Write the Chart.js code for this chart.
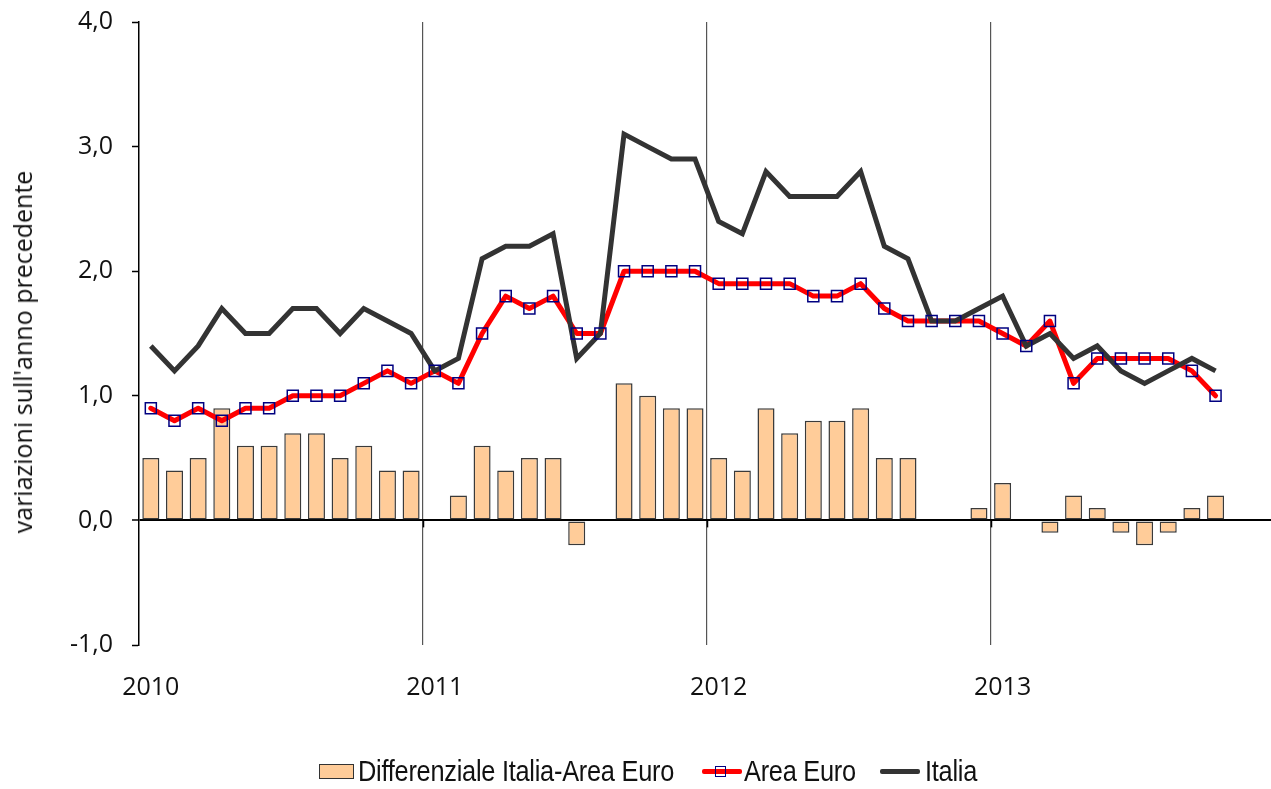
<!DOCTYPE html>
<html>
<head>
<meta charset="utf-8">
<script src="https://cdn.jsdelivr.net/npm/chart.js@4/dist/chart.umd.min.js"></script>
<style>
html,body{margin:0;padding:0;background:#fff;overflow:hidden;width:1271px;height:789px;}
#wrap{position:relative;width:1284px;height:789px;}
#c{position:absolute;left:0;top:0;}
.lgt{position:absolute;top:756px;height:30px;line-height:30px;font-family:"Liberation Sans",Arial,sans-serif;font-size:30px;color:#111;white-space:nowrap;letter-spacing:-0.3px;transform:scaleX(0.845);transform-origin:0 50%;}
.sym{position:absolute;box-sizing:border-box;}
#ytitle{position:absolute;left:22px;top:352px;width:0;height:0;}
#ytitle span{position:absolute;left:0;top:0;transform:translate(-50%,-50%) rotate(-90deg);font-family:"Open Sans",sans-serif;font-size:25px;line-height:30px;color:#111;white-space:nowrap;}
</style>
</head>
<body>
<div id="wrap">
<canvas id="c" width="1284" height="789"></canvas>
<div id="ytitle"><span>variazioni sull'anno precedente</span></div>
<div class="sym" style="left:319px;top:764px;width:35px;height:15px;background:#FFCC99;border:1.5px solid #333;"></div>
<div class="lgt" style="left:358px;">Differenziale Italia-Area Euro</div>
<div class="sym" style="left:702px;top:769px;width:40px;height:5px;background:#FF0000;border-radius:2px;"></div>
<div class="sym" style="left:715px;top:766px;width:11px;height:11px;border:1.5px solid #000080;"></div>
<div class="lgt" style="left:744px;">Area Euro</div>
<div class="sym" style="left:880px;top:769px;width:40px;height:5px;background:#333333;border-radius:2px;"></div>
<div class="lgt" style="left:925px;">Italia</div>
</div>
<script>
const categories = [
  'gen 2010','feb 2010','mar 2010','apr 2010','mag 2010','giu 2010','lug 2010','ago 2010','set 2010','ott 2010','nov 2010','dic 2010',
  'gen 2011','feb 2011','mar 2011','apr 2011','mag 2011','giu 2011','lug 2011','ago 2011','set 2011','ott 2011','nov 2011','dic 2011',
  'gen 2012','feb 2012','mar 2012','apr 2012','mag 2012','giu 2012','lug 2012','ago 2012','set 2012','ott 2012','nov 2012','dic 2012',
  'gen 2013','feb 2013','mar 2013','apr 2013','mag 2013','giu 2013','lug 2013','ago 2013','set 2013','ott 2013','nov 2013','dic 2013'
];
const yearLabels = ['2010','2011','2012','2013'];
const yTicks = [-1, 0, 1, 2, 3, 4];

const differenziale = [
  0.5,0.4,0.5,0.9,0.6,0.6,0.7,0.7,0.5,0.6,0.4,0.4,
  0.0,0.2,0.6,0.4,0.5,0.5,-0.2,0.0,1.1,1.0,0.9,0.9,
  0.5,0.4,0.9,0.7,0.8,0.8,0.9,0.5,0.5,0.0,0.0,0.1,
  0.3,0.0,-0.1,0.2,0.1,-0.1,-0.2,-0.1,0.1,0.2
];
const areaEuro = [
  0.9,0.8,0.9,0.8,0.9,0.9,1.0,1.0,1.0,1.1,1.2,1.1,
  1.2,1.1,1.5,1.8,1.7,1.8,1.5,1.5,2.0,2.0,2.0,2.0,
  1.9,1.9,1.9,1.9,1.8,1.8,1.9,1.7,1.6,1.6,1.6,1.6,
  1.5,1.4,1.6,1.1,1.3,1.3,1.3,1.3,1.2,1.0
];
const italia = [
  1.4,1.2,1.4,1.7,1.5,1.5,1.7,1.7,1.5,1.7,1.6,1.5,
  1.2,1.3,2.1,2.2,2.2,2.3,1.3,1.5,3.1,3.0,2.9,2.9,
  2.4,2.3,2.8,2.6,2.6,2.6,2.8,2.2,2.1,1.6,1.6,1.7,
  1.8,1.4,1.5,1.3,1.4,1.2,1.1,1.2,1.3,1.2
];

const tickFont = {family: '"Open Sans", sans-serif', size: 25};

const boundaryTicks = {
  id: 'boundaryTicks',
  afterDatasetsDraw(chart) {
    const {ctx, scales: {x, y}} = chart;
    const y0 = y.getPixelForValue(0);
    const w = x.width / categories.length;
    ctx.save();
    ctx.strokeStyle = '#000';
    ctx.lineWidth = 1.5;
    for (let i = 12; i < categories.length; i += 12) {
      const px = Math.round(x.getPixelForValue(i) - w / 2) + 0.5;
      ctx.beginPath();
      ctx.moveTo(px, y0);
      ctx.lineTo(px, y0 + 7);
      ctx.stroke();
    }
    ctx.restore();
  }
};

new Chart(document.getElementById('c'), {
  type: 'bar',
  data: {
    labels: categories,
    datasets: [
      {
        type: 'line', label: 'Area Euro markers', data: areaEuro, showLine: false,
        pointStyle: 'rect', pointRadius: 7.8, pointBorderColor: '#000080', pointBorderWidth: 1.5,
        pointBackgroundColor: 'rgba(0,0,0,0)', order: 0
      },
      {
        type: 'line', label: 'Italia', data: italia, borderColor: '#333333', borderWidth: 5,
        pointRadius: 0, tension: 0, borderJoinStyle: 'miter', order: 1
      },
      {
        type: 'line', label: 'Area Euro', data: areaEuro, borderColor: '#FF0000', borderWidth: 5,
        pointRadius: 0, tension: 0, borderJoinStyle: 'round', borderCapStyle: 'round', order: 2
      },
      {
        type: 'bar', label: 'Differenziale Italia-Area Euro', data: differenziale,
        backgroundColor: '#FFCC99', borderColor: '#3a3a3a', borderWidth: 1.5, borderSkipped: false,
        barPercentage: 0.72, categoryPercentage: 1, order: 3
      }
    ]
  },
  options: {
    responsive: false,
    animation: false,
    devicePixelRatio: 1,
    layout: {padding: {top: 22, right: 0, bottom: 0, left: 0}},
    plugins: {legend: {display: false}, tooltip: {enabled: false}},
    scales: {
      x: {
        type: 'category',
        offset: true,
        afterFit: s => { s.height = 144; s.paddingLeft = 0; s.paddingRight = 0; },
        grid: {
          offset: true,
          drawTicks: false,
          lineWidth: 1.2,
          color: c => (c.index > 0 && c.index < categories.length && c.index % 12 === 0) ? '#555555' : 'rgba(0,0,0,0)'
        },
        border: {display: false},
        ticks: {
          autoSkip: false, maxRotation: 0, minRotation: 0, padding: 28,
          font: tickFont, color: '#111',
          callback: (v, i) => (i % 12 === 0 ? yearLabels[i / 12] : '')
        }
      },
      y: {
        min: -1, max: 4,
        afterFit: s => { s.width = 139; s.paddingTop = 0; s.paddingBottom = 0; },
        afterBuildTicks: s => { s.ticks = yTicks.map(v => ({value: v})); },
        grid: {
          drawTicks: true, tickLength: 7, tickWidth: 1.5, tickColor: '#000',
          color: c => (c.tick && c.tick.value === 0) ? '#000' : 'rgba(0,0,0,0)',
          lineWidth: c => (c.tick && c.tick.value === 0) ? 2 : 1
        },
        border: {display: true, color: '#000', width: 1.5},
        ticks: {
          padding: 19, font: tickFont, color: '#111',
          callback: v => v.toFixed(1).replace('.', ',')
        },
        title: {display: false}
      }
    }
  },
  plugins: [boundaryTicks]
});
</script>
</body>
</html>
